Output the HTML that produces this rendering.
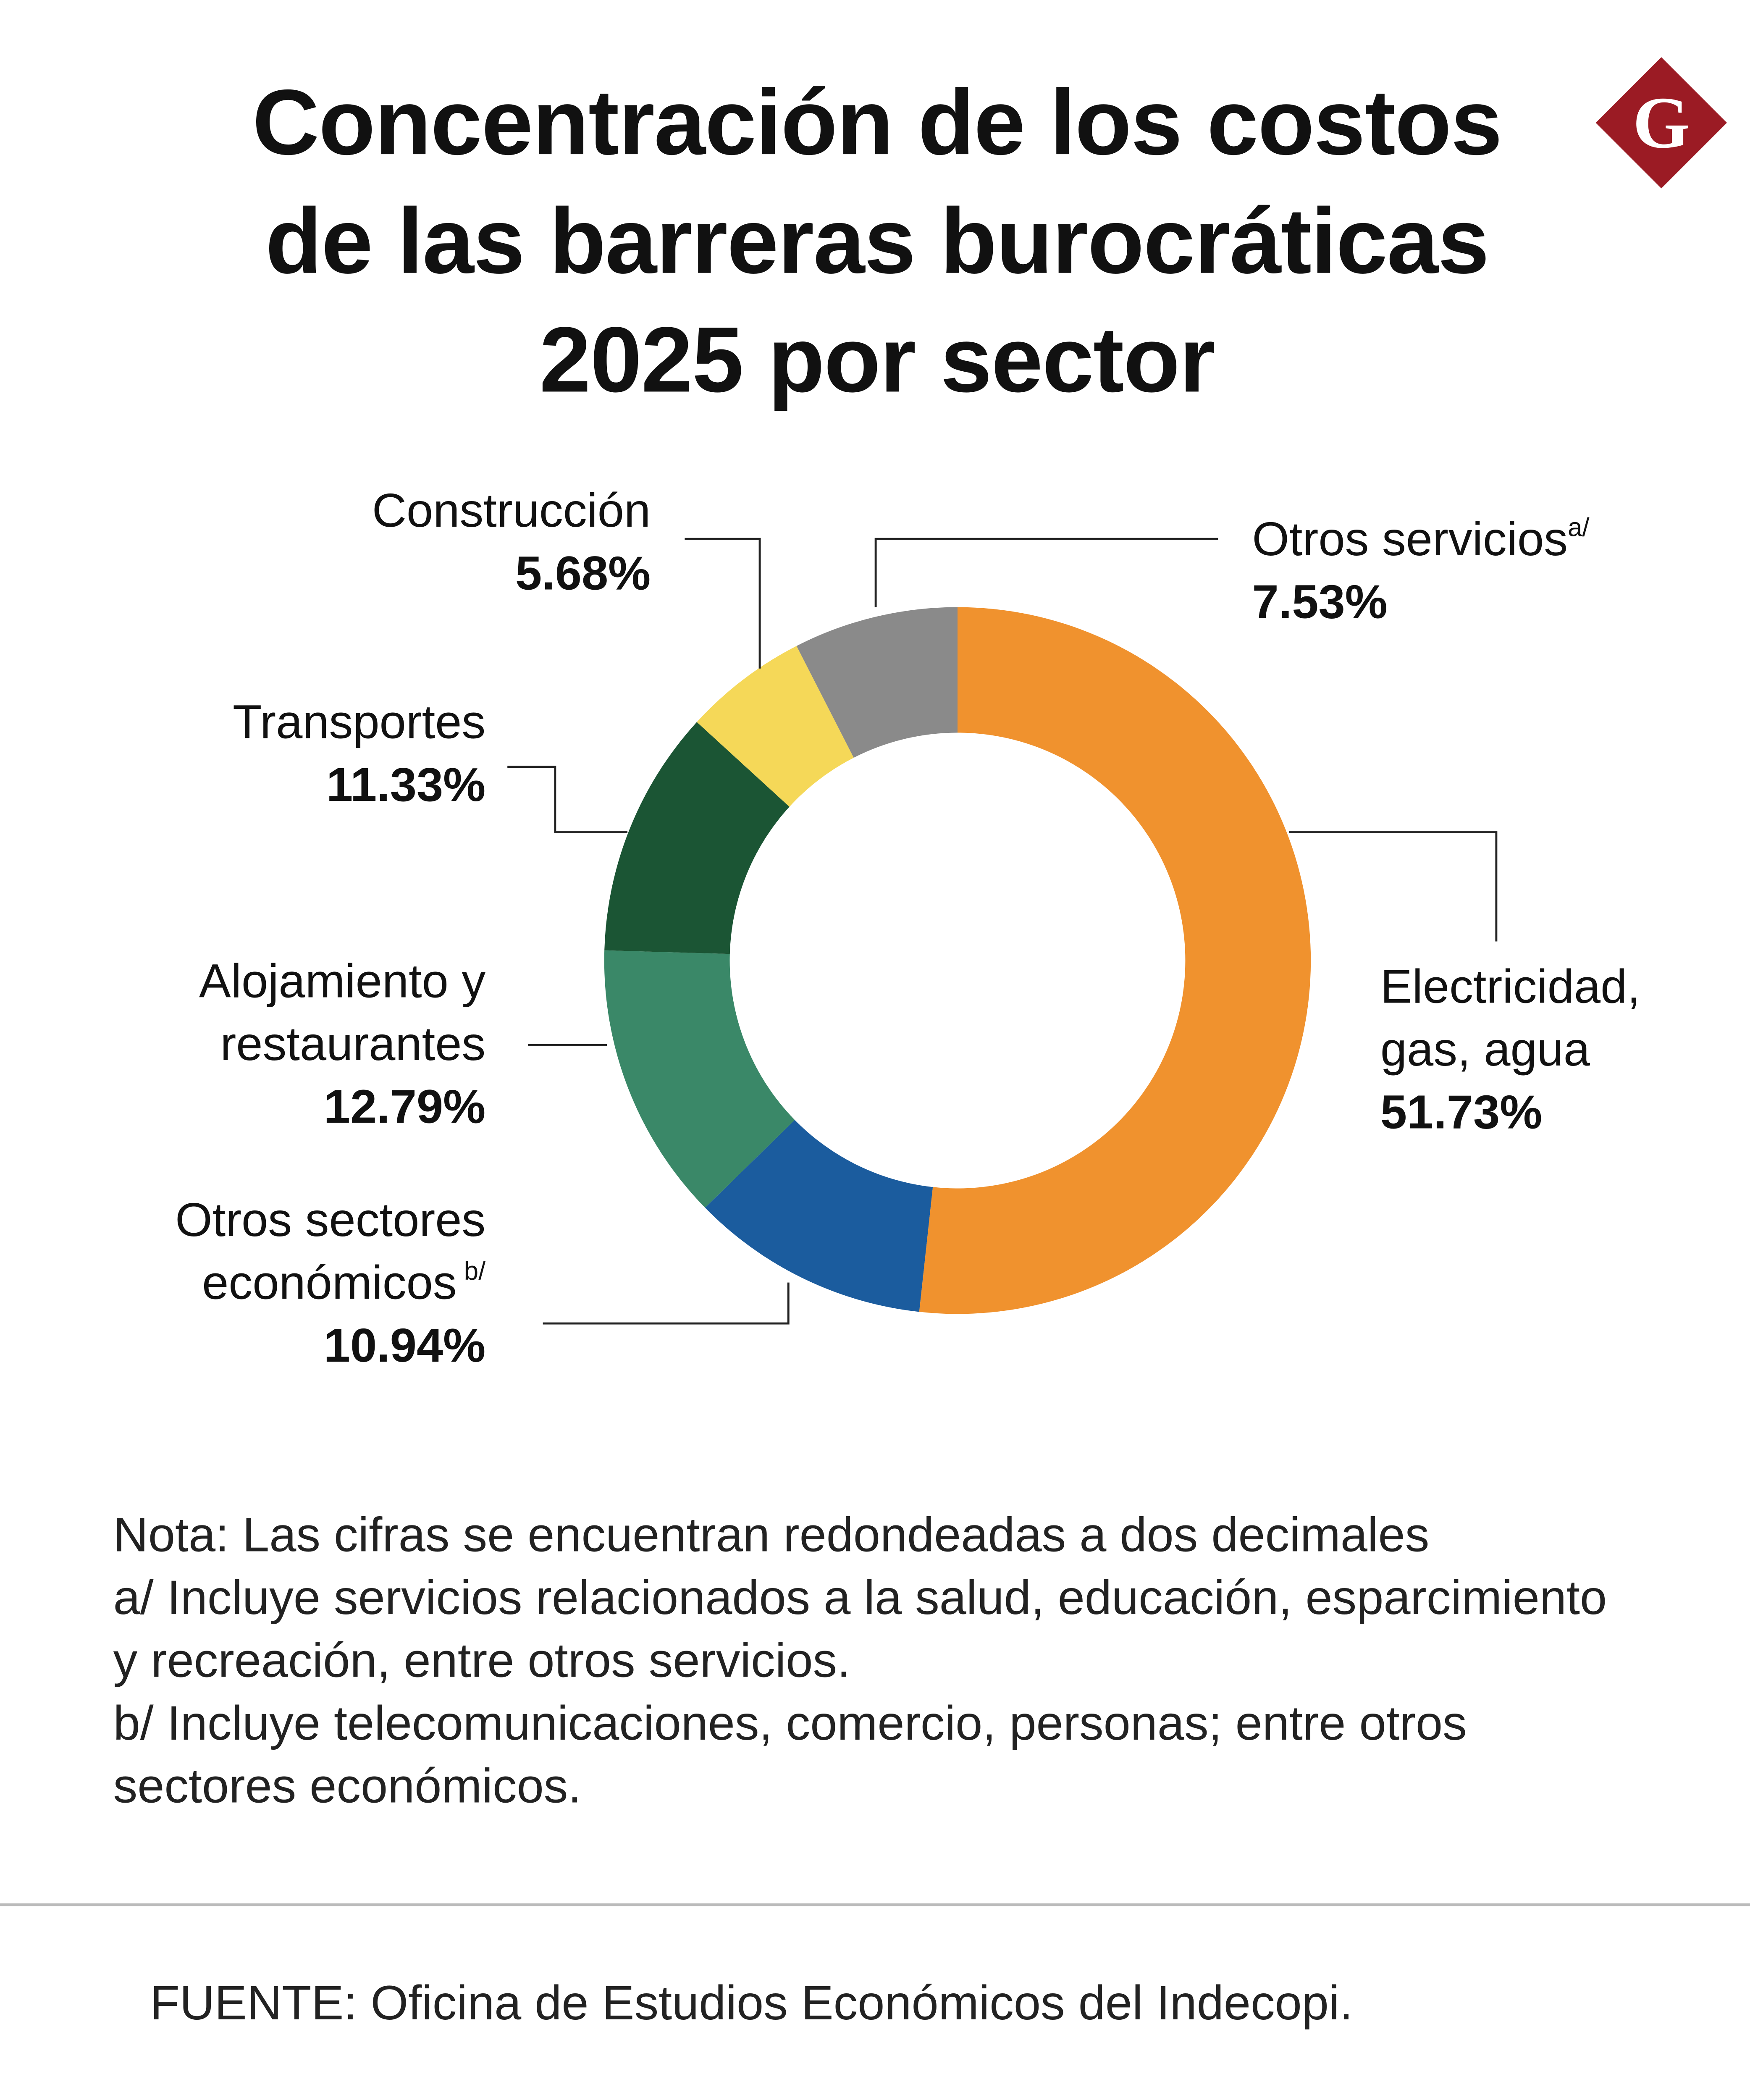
<!DOCTYPE html>
<html><head><meta charset="utf-8"><style>
html,body{margin:0;padding:0;background:#fff;width:4167px;height:5084px;overflow:hidden;}
svg{display:block;position:absolute;left:0;top:0;}
text{font-family:"Liberation Sans",sans-serif;fill:#111;}
.t{font-weight:bold;font-size:68px;letter-spacing:-0.5px;}
.l{font-size:35px;}
.b{font-size:35px;font-weight:bold;}
.n{font-size:35.5px;fill:#222;}
</style></head><body>
<svg id="chart" width="4167" height="5084" viewBox="0 0 1283 1565" preserveAspectRatio="none" xmlns="http://www.w3.org/2000/svg">
<rect width="1283" height="1565" fill="#fff"/>
<g text-anchor="middle">
<text class="t" x="643" y="113">Concentración de los costos</text>
<text class="t" x="643" y="200">de las barreras burocráticas</text>
<text class="t" x="643" y="287">2025 por sector</text>
</g>
<g>
<rect x="1184" y="56" width="68" height="68" fill="#9B1B24" transform="rotate(45 1218 90)"/>
<text x="1218" y="108" text-anchor="middle" style="font-family:'Liberation Serif',serif;font-size:54px;font-weight:bold;fill:#fff">G</text>
</g>
<g id="slices"></g>
<g fill="none" stroke="#222" stroke-width="1.5">
<polyline points="642,445 642,395 893,395"/>
<polyline points="557,490 557,395 502,395"/>
<polyline points="460,610 407,610 407,562 372,562"/>
<polyline points="445,766 387,766"/>
<polyline points="578,940 578,970 398,970"/>
<polyline points="945,610 1097,610 1097,690"/>
</g>
<g>
<text class="l" x="918" y="407">Otros servicios<tspan font-size="19" dy="-14">a/</tspan></text>
<text class="b" x="918" y="453">7.53%</text>
<text class="l" x="477" y="386" text-anchor="end">Construcción</text>
<text class="b" x="477" y="432" text-anchor="end">5.68%</text>
<text class="l" x="356" y="541" text-anchor="end">Transportes</text>
<text class="b" x="356" y="587" text-anchor="end">11.33%</text>
<text class="l" x="356" y="731" text-anchor="end">Alojamiento y</text>
<text class="l" x="356" y="777" text-anchor="end">restaurantes</text>
<text class="b" x="356" y="823" text-anchor="end">12.79%</text>
<text class="l" x="356" y="906" text-anchor="end">Otros sectores</text>
<text class="l" x="356" y="952" text-anchor="end">económicos<tspan font-size="19" dy="-14"> b/</tspan></text>
<text class="b" x="356" y="998" text-anchor="end">10.94%</text>
<text class="l" x="1012" y="735">Electricidad,</text>
<text class="l" x="1012" y="781">gas, agua</text>
<text class="b" x="1012" y="827">51.73%</text>
</g>
<g>
<text class="n" x="83" y="1137">Nota: Las cifras se encuentran redondeadas a dos decimales</text>
<text class="n" x="83" y="1183">a/ Incluye servicios relacionados a la salud, educación, esparcimiento</text>
<text class="n" x="83" y="1229">y recreación, entre otros servicios.</text>
<text class="n" x="83" y="1275">b/ Incluye telecomunicaciones, comercio, personas; entre otros</text>
<text class="n" x="83" y="1321">sectores económicos.</text>
</g>
<line x1="0" y1="1396" x2="1283" y2="1396" stroke="#bbb" stroke-width="2"/>
<text class="n" x="110" y="1480">FUENTE: Oficina de Estudios Económicos del Indecopi.</text>
</svg>
<script>
const categories = ["Electricidad, gas, agua","Otros sectores económicos","Alojamiento y restaurantes","Transportes","Construcción","Otros servicios"];
const values = [51.73,10.94,12.79,11.33,5.68,7.53];
const colors = ["#F0922E","#1B5C9E","#3A8868","#1B5534","#F5D858","#8A8A8A"];
const cx=702, cy=704, R=259, r=167;
const g=document.getElementById('slices');
const total=values.reduce((a,b)=>a+b,0);
function pt(rad,a){return [cx+rad*Math.sin(a), cy-rad*Math.cos(a)];}
let acc=0;
values.forEach((v,i)=>{
  const a0=acc/total*2*Math.PI; acc+=v; const a1=acc/total*2*Math.PI;
  const lg=(a1-a0)>Math.PI?1:0;
  const [x0,y0]=pt(R,a0),[x1,y1]=pt(R,a1),[x2,y2]=pt(r,a1),[x3,y3]=pt(r,a0);
  const p=document.createElementNS('http://www.w3.org/2000/svg','path');
  p.setAttribute('d',`M${x0},${y0}A${R},${R} 0 ${lg} 1 ${x1},${y1}L${x2},${y2}A${r},${r} 0 ${lg} 0 ${x3},${y3}Z`);
  p.setAttribute('fill',colors[i]);
  
  
  g.appendChild(p);
});
</script>
</body></html>
